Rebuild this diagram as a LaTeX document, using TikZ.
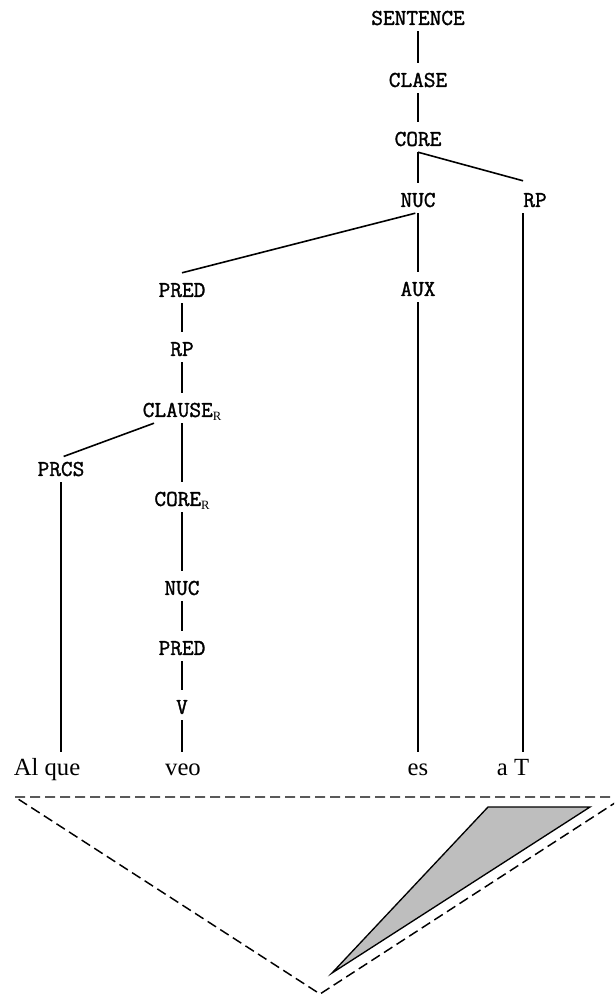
\documentclass[tikz,border=0pt]{standalone}
\usepackage{fontspec}
\setmainfont{Liberation Serif}
\newfontfamily\lblmono{Latin Modern Mono}[FakeBold=1.4]
\usetikzlibrary{calc}
\definecolor{trigray}{RGB}{190,190,190}
\newcommand{\lblfont}{\lblmono\fontsize{17pt}{18pt}\selectfont}
\newcommand{\wordfont}{\rmfamily\fontsize{18.5pt}{20pt}\selectfont}
\newcommand{\subR}{\raisebox{-2.5pt}{\rmfamily\fontsize{9.5pt}{9.5pt}\selectfont R}}
\begin{document}
\begin{tikzpicture}[x=0.75pt,y=-0.75pt,
  lbl/.style={font=\lblfont, inner sep=0pt, text height=10.4pt, text depth=0pt},
  word/.style={font=\wordfont, inner sep=0pt, text height=13pt, text depth=4pt, anchor=base},
  edge/.style={line width=1.2pt},
  dashedge/.style={line width=1.1pt, dash pattern=on 7.5pt off 3.75pt},
  graytri/.style={line width=1pt, fill=trigray}]
\useasboundingbox (0,0) rectangle (614,998);

% labels
\node[lbl] (sentence) at (418,18) {SENTENCE};
\node[lbl] (clase) at (418,80) {CLASE};
\node[lbl] (core) at (418,139) {CORE};
\node[lbl] (nuc) at (418,200) {NUC};
\node[lbl] (rp) at (535,200) {RP};
\node[lbl] (pred) at (182,290) {PRED};
\node[lbl] (aux) at (418,289) {AUX};
\node[lbl] (rp2) at (182,349) {RP};
\node[lbl] (clause) at (182,410) {CLAUSE\subR};
\node[lbl] (prcs) at (61,469) {PRCS};
\node[lbl] (corer) at (182,499) {CORE\subR};
\node[lbl] (nuc2) at (182,588) {NUC};
\node[lbl] (pred2) at (182,648) {PRED};
\node[lbl] (v) at (182,707) {V};

% words
\node[word] (alque) at (47,775) {Al que};
\node[word] (veo) at (183,775) {veo};
\node[word] (es) at (418,775) {es};
\node[word] (aT) at (513,775) {a T};

% connectors
\draw[edge] ([yshift=-4.5pt]sentence.south) -- ([yshift=7.5pt]clase.north);
\draw[edge] ([yshift=-4.5pt]clase.south) -- ([yshift=7.5pt]core.north);
\draw[edge] ([yshift=-4.5pt]core.south) -- ([yshift=7.5pt]nuc.north);
\draw[edge] ([yshift=-4.5pt]core.south) -- ([yshift=9pt]rp.north west);
\draw[edge] ([yshift=-4.5pt]nuc.south) -- ([yshift=7.5pt]aux.north);
\draw[edge] ([xshift=-2pt,yshift=-4.5pt]nuc.south) -- ([yshift=7.5pt]pred.north);
\draw[edge] ([yshift=-4.5pt]aux.south) -- ([yshift=4.3pt]es.north);
\draw[edge] ([yshift=-4.5pt]rp.south west) -- ($(rp.south west |- aT.north)+(0,-5.7)$);
\draw[edge] ([yshift=-4.5pt]pred.south) -- ([yshift=7.5pt]rp2.north);
\draw[edge] ([yshift=-4.5pt]rp2.south) -- ([yshift=7.5pt]clause.north);
\draw[edge] ([xshift=-21pt,yshift=-4.5pt]clause.south) -- ([xshift=2pt,yshift=4pt]prcs.north);
\draw[edge] ([yshift=-4.5pt]clause.south) -- ([yshift=7.5pt]corer.north);
\draw[edge] ([yshift=-4.5pt]prcs.south) -- ($(prcs.south |- alque.north)+(0,-5.7)$);
\draw[edge] ([yshift=-4.5pt]corer.south) -- ([yshift=7.5pt]nuc2.north);
\draw[edge] ([yshift=-4.5pt]nuc2.south) -- ([yshift=7.5pt]pred2.north);
\draw[edge] ([yshift=-4.5pt]pred2.south) -- ([yshift=7.5pt]v.north);
\draw[edge] ([yshift=-4.5pt]v.south) -- ($(v.south |- veo.north)+(0,-5.7)$);

% triangles
\begin{scope}
\clip (0,0) rectangle (614,998);
\draw[dashedge] (15,797) -- (624,797) -- (320,994) -- cycle;
\end{scope}
\draw[graytri] (488,807) -- (590,807) -- (332,973) -- cycle;
\end{tikzpicture}
\end{document}
